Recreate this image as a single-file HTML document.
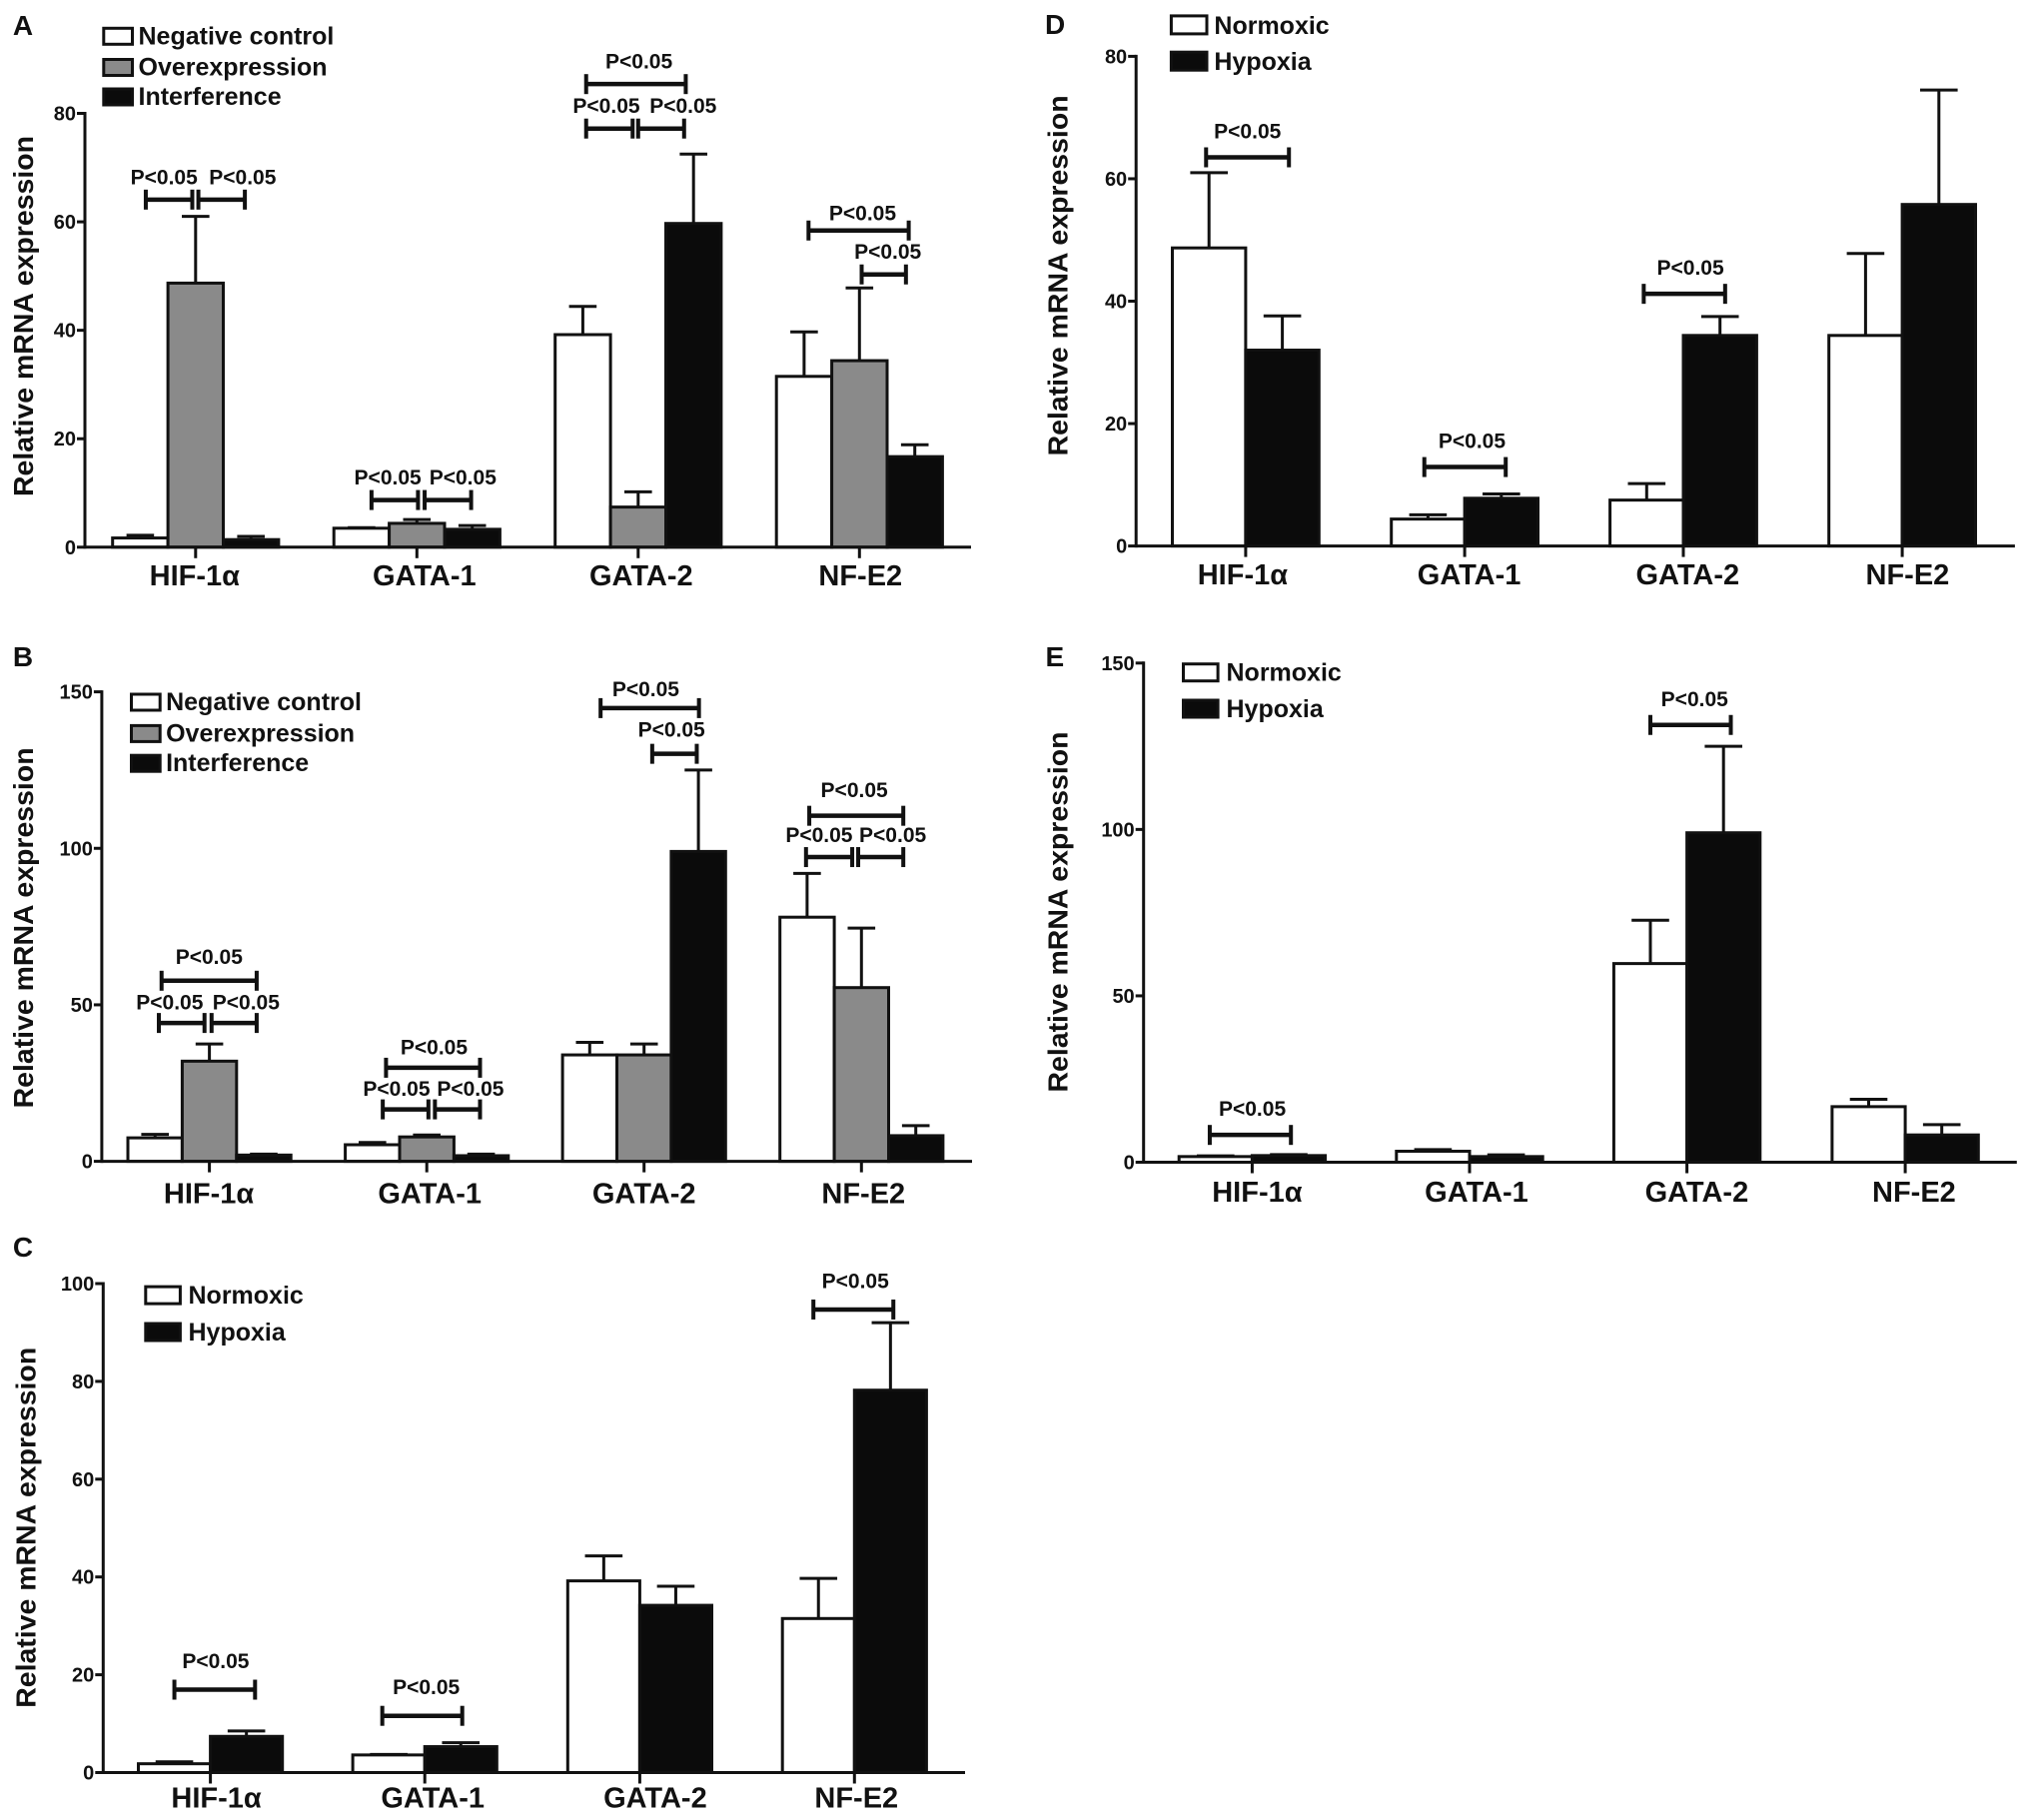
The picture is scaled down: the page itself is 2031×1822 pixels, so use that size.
<!DOCTYPE html>
<html lang="en">
<head>
<meta charset="utf-8">
<title>Relative mRNA expression panels A–E</title>
<style>
html,body{margin:0;padding:0;background:#fff;}
svg{display:block;}
text{font-family:"Liberation Sans",sans-serif;font-weight:700;fill:#111;}
</style>
</head>
<body>
<svg id="figure" xmlns="http://www.w3.org/2000/svg" width="2031" height="1822" viewBox="0 0 2031 1822"></svg>
<script>
// ---- shared labels ----
const categories = ["HIF-1\u03b1", "GATA-1", "GATA-2", "NF-E2"];
const threeSeriesNames = ["Negative control", "Overexpression", "Interference"];
const twoSeriesNames = ["Normoxic", "Hypoxia"];

// ---- panel A values ----
const ticksA = [0, 20, 40, 60, 80];
const aNegative = [1.7, 3.5, 39.2, 31.5];
const aOverexpression = [48.7, 4.4, 7.4, 34.4];
const aInterference = [1.4, 3.3, 59.7, 16.7];
const aNegativeTop = [2.2, 3.6, 44.4, 39.7];
const aOverexpressionTop = [61, 5.1, 10.2, 47.8];
const aInterferenceTop = [2.0, 4.0, 72.5, 18.9];

// ---- panel B values ----
const ticksB = [0, 50, 100, 150];
const bNegative = [7.5, 5.3, 34, 78];
const bOverexpression = [32, 7.8, 34, 55.5];
const bInterference = [2, 1.8, 99, 8.2];
const bNegativeTop = [8.6, 6, 38, 92];
const bOverexpressionTop = [37.5, 8.4, 37.5, 74.5];
const bInterferenceTop = [2.3, 2.3, 125, 11.4];

// ---- panel C values ----
const ticksC = [0, 20, 40, 60, 80, 100];
const cNormoxic = [1.8, 3.6, 39.2, 31.5];
const cHypoxia = [7.4, 5.3, 34.2, 78.2];
const cNormoxicTop = [2.2, 3.7, 44.3, 39.7];
const cHypoxiaTop = [8.5, 6.1, 38.1, 92];

// ---- panel D values ----
const ticksD = [0, 20, 40, 60, 80];
const dNormoxic = [48.7, 4.4, 7.5, 34.4];
const dHypoxia = [32, 7.8, 34.4, 55.8];
const dNormoxicTop = [61, 5.1, 10.2, 47.8];
const dHypoxiaTop = [37.6, 8.5, 37.5, 74.5];

// ---- panel E values ----
const ticksE = [0, 50, 100, 150];
const eNormoxic = [1.7, 3.3, 59.7, 16.7];
const eHypoxia = [2, 1.7, 99, 8.2];
const eNormoxicTop = [1.9, 3.8, 72.7, 18.9];
const eHypoxiaTop = [2.3, 2.2, 125, 11.3];

// ---- significance brackets: category, span in bar widths from category centre, height in axis units ----
const sigA = [
  {cat:0, from:-0.90, to:-0.06, level:64.1, nudge:-5},
  {cat:0, from:0.05, to:0.89, level:64.1, nudge:21},
  {cat:1, from:-0.82, to:0.02, level:8.7, nudge:-7},
  {cat:1, from:0.14, to:0.98, level:8.7, nudge:15},
  {cat:2, from:-0.94, to:0.86, level:85.4, nudge:3},
  {cat:2, from:-0.94, to:-0.10, level:77.2, nudge:-3},
  {cat:2, from:0.0, to:0.83, level:77.2, nudge:22},
  {cat:3, from:-0.92, to:0.89, level:58.4, nudge:4, rise:10.5},
  {cat:3, from:0.04, to:0.84, level:50.3, nudge:4}
];
const sigB = [
  {cat:0, from:-0.88, to:0.87, level:57.7, nudge:0, rise:17},
  {cat:0, from:-0.93, to:-0.09, level:44.2, nudge:-12, rise:13.5},
  {cat:0, from:0.04, to:0.87, level:44.2, nudge:12, rise:13.5},
  {cat:1, from:-0.75, to:0.98, level:29.9, nudge:1, rise:13.5},
  {cat:1, from:-0.81, to:0.03, level:16.6, nudge:-9, rise:13.5},
  {cat:1, from:0.15, to:0.98, level:16.6, nudge:13, rise:13.5},
  {cat:2, from:-0.80, to:1.01, level:144.8, nudge:-4, rise:12},
  {cat:2, from:0.15, to:0.97, level:130.2, nudge:-3, rise:17},
  {cat:3, from:-0.96, to:0.77, level:110.4, nudge:-2, rise:18.5},
  {cat:3, from:-1.02, to:-0.17, level:97.2, nudge:-10, rise:15},
  {cat:3, from:-0.06, to:0.77, level:97.2, nudge:12, rise:15}
];
const sigC = [
  {cat:0, from:-0.50, to:0.62, level:16.95, nudge:1},
  {cat:1, from:-0.59, to:0.52, level:11.6, nudge:4},
  {cat:3, from:-0.57, to:0.54, level:94.7, nudge:2}
];
const sigD = [
  {cat:0, from:-0.54, to:0.59, level:63.5, nudge:0},
  {cat:1, from:-0.55, to:0.56, level:12.9, nudge:7},
  {cat:2, from:-0.54, to:0.57, level:41.2, nudge:6}
];
const sigE = [
  {cat:0, from:-0.58, to:0.53, level:8.2, nudge:2},
  {cat:2, from:-0.50, to:0.60, level:131.4, nudge:4}
];

const WHITE = "#ffffff", GREY = "#8a8a8a", BLACK = "#0b0b0b";

const panels = [
  {key:"a", letter:"A", letterX:12.9, letterY:34.9, axisX:85, baseY:547.8, topY:113.5, endX:972, maxV:80,
   ticks:ticksA, centers:[195.8,417.3,638.8,860.3], labelDx:[-1,7.5,3,1], labelY:586, barW:55.4, capHalf:13.8,
   titleX:33.1, titleY:316.5, sigRise:15.5, sig:sigA,
   series:[aNegative,aOverexpression,aInterference], tops:[aNegativeTop,aOverexpressionTop,aInterferenceTop],
   fills:[WHITE,GREY,BLACK], names:threeSeriesNames,
   swX:103.8, swW:28.7, swH:16, textX:138.5, legendY:[44.3,75.5,105]},
  {key:"b", letter:"B", letterX:12.9, letterY:666.8, axisX:101.9, baseY:1162.6, topY:692.6, endX:973, maxV:150,
   ticks:ticksB, centers:[209.6,427.2,644.7,862.3], labelDx:[-0.5,3,0,2], labelY:1204.5, barW:54.4, capHalf:13.8,
   titleX:33.1, titleY:928.9, sigRise:16, sig:sigB,
   series:[bNegative,bOverexpression,bInterference], tops:[bNegativeTop,bOverexpressionTop,bInterferenceTop],
   fills:[WHITE,GREY,BLACK], names:threeSeriesNames,
   swX:131.5, swW:28.7, swH:16, textX:166.1, legendY:[711,742.4,772.2]},
  {key:"c", letter:"C", letterX:12.9, letterY:1257.8, axisX:103.3, baseY:1774.5, topY:1285, endX:966, maxV:100,
   ticks:ticksC, centers:[210.6,425.2,640.4,855.3], labelDx:[6,8,15.5,2], labelY:1809.3, barW:72.1, capHalf:18.8,
   titleX:35.6, titleY:1529.3, sigRise:21.5, sig:sigC,
   series:[cNormoxic,cHypoxia], tops:[cNormoxicTop,cHypoxiaTop],
   fills:[WHITE,BLACK], names:twoSeriesNames,
   swX:145.8, swW:34.6, swH:17, textX:188.5, legendY:[1305.1,1342]},
  {key:"d", letter:"D", letterX:1046, letterY:33.9, axisX:1137.2, baseY:546.6, topY:56.4, endX:2016.9, maxV:80,
   ticks:ticksD, centers:[1246.9,1466.1,1685,1904.1], labelDx:[-3,4.5,4.3,5.3], labelY:585.2, barW:73.4, capHalf:18.8,
   titleX:1068.3, titleY:275.9, sigRise:19, sig:sigD,
   series:[dNormoxic,dHypoxia], tops:[dNormoxicTop,dHypoxiaTop],
   fills:[WHITE,BLACK], names:twoSeriesNames,
   swX:1172.4, swW:35.6, swH:18, textX:1215.4, legendY:[33.9,70.2]},
  {key:"e", letter:"E", letterX:1046.5, letterY:666.8, axisX:1144.7, baseY:1163.5, topY:663.8, endX:2018.8, maxV:150,
   ticks:ticksE, centers:[1253.4,1471,1688.6,1907.1], labelDx:[5,7,9.8,8.8], labelY:1203, barW:73.2, capHalf:18.8,
   titleX:1068.3, titleY:913, sigRise:19, sig:sigE,
   series:[eNormoxic,eHypoxia], tops:[eNormoxicTop,eHypoxiaTop],
   fills:[WHITE,BLACK], names:twoSeriesNames,
   swX:1184.5, swW:34.6, swH:17, textX:1227.5, legendY:[681.7,718]}
];

const NS = "http://www.w3.org/2000/svg";
const figure = document.getElementById("figure");

function mk(parent, tag, attrs, txt) {
  const node = document.createElementNS(NS, tag);
  for (const k in attrs) node.setAttribute(k, attrs[k]);
  if (txt !== undefined) node.textContent = txt;
  parent.appendChild(node);
  return node;
}
function line(parent, x1, y1, x2, y2, w) {
  return mk(parent, "line", {x1:x1, y1:y1, x2:x2, y2:y2, stroke:"#111", "stroke-width":w});
}

panels.forEach(function (p) {
  const yScale = function (v) { return p.baseY - (v / p.maxV) * (p.baseY - p.topY); };
  const xBar = function (cat, s) {
    return p.centers[cat] - p.series.length * p.barW / 2 + s * p.barW;
  };
  const xOffset = function (cat, units) { return p.centers[cat] + units * p.barW; };

  const g = mk(figure, "g", {});
  
  

  const letter = mk(g, "text", {x:p.letterX, y:p.letterY, "font-size":28}, p.letter);
  
  

  const yTitle = mk(g, "text", {
    x:0, y:0, "font-size":28, "text-anchor":"middle", textLength:361, lengthAdjust:"spacingAndGlyphs",
    transform:"translate(" + p.titleX + "," + p.titleY + ") rotate(-90)"
  }, "Relative mRNA expression");
  
  

  // bars and error bars
  p.series.forEach(function (vals, s) {
    vals.forEach(function (v, cat) {
      const x = xBar(cat, s);
      const cx = x + p.barW / 2;
      const errG = mk(g, "g", {});
      
      
      line(errG, cx, yScale(v), cx, yScale(p.tops[s][cat]), 3);
      line(errG, cx - p.capHalf, yScale(p.tops[s][cat]), cx + p.capHalf, yScale(p.tops[s][cat]), 3);
      const bar = mk(g, "rect", {
        x:x, y:yScale(v), width:p.barW, height:p.baseY - yScale(v),
        fill:p.fills[s], stroke:"#111", "stroke-width":3
      });
      
      
    });
  });

  // y axis
  const yAxis = mk(g, "g", {});
  
  
  line(yAxis, p.axisX, p.topY - 1.5, p.axisX, p.baseY + 1.5, 3);
  p.ticks.forEach(function (t) {
    line(yAxis, p.axisX - 8, yScale(t), p.axisX, yScale(t), 3);
    const tl = mk(yAxis, "text", {x:p.axisX - 9, y:yScale(t) + 7, "font-size":20, "text-anchor":"end"}, String(t));
    
    
  });

  // x axis
  const xAxis = mk(g, "g", {});
  
  
  line(xAxis, p.axisX, p.baseY, p.endX, p.baseY, 3);
  categories.forEach(function (c, i) {
    line(xAxis, p.centers[i], p.baseY, p.centers[i], p.baseY + 11, 3);
    const cl = mk(xAxis, "text", {x:p.centers[i] + p.labelDx[i], y:p.labelY, "font-size":29, "text-anchor":"middle"}, c);
    
    
  });

  // significance brackets
  p.sig.forEach(function (b, i) {
    const x1 = xOffset(b.cat, b.from), x2 = xOffset(b.cat, b.to), y = yScale(b.level);
    const rise = b.rise !== undefined ? b.rise : p.sigRise;
    const sg = mk(g, "g", {});
    
    
    line(sg, x1, y, x2, y, 4.5);
    line(sg, x1, y - 10, x1, y + 10, 4);
    line(sg, x2, y - 10, x2, y + 10, 4);
    mk(sg, "text", {x:(x1 + x2) / 2 + b.nudge, y:y - rise, "font-size":21, "text-anchor":"middle"}, "P<0.05");
  });

  // legend
  const lg = mk(g, "g", {});
  
  
  p.names.forEach(function (n, s) {
    const sw = mk(lg, "rect", {
      x:p.swX, y:p.legendY[s] - p.swH, width:p.swW, height:p.swH,
      fill:p.fills[s], stroke:"#111", "stroke-width":3
    });
    
    
    const lt = mk(lg, "text", {x:p.textX, y:p.legendY[s], "font-size":25}, n);
    
    
  });
});
</script>
</body>
</html>
